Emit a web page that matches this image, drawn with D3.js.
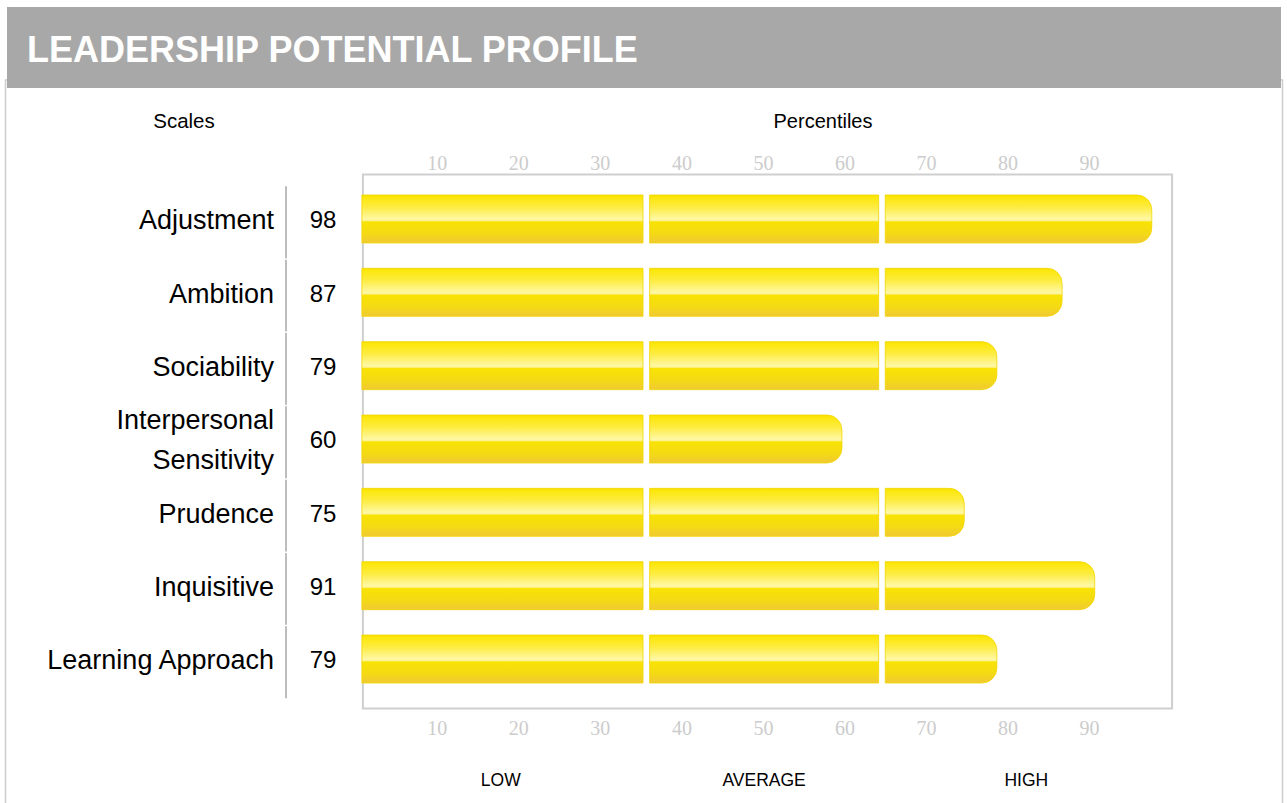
<!doctype html>
<html>
<head>
<meta charset="utf-8">
<title>Leadership Potential Profile</title>
<script src="https://d3js.org/d3.v7.min.js"></script>
<style>
  body { margin: 0; background: #fff; }
  svg { display: block; }
</style>
</head>
<body>
<script>
// scales shown on the profile, top to bottom
var scaleNames = ["Adjustment", "Ambition", "Sociability", "Interpersonal Sensitivity",
                  "Prudence", "Inquisitive", "Learning Approach"];
var percentiles = [98, 87, 79, 60, 75, 91, 79];
var tickValues = [10, 20, 30, 40, 50, 60, 70, 80, 90];
// LOW / AVERAGE / HIGH bands (percentile ranges)
var bandNames = ["LOW", "AVERAGE", "HIGH"];
var bandEdges = [1, 35.7, 64.6, 100];

var W = 1287, H = 803;
var svg = d3.select("body").append("svg")
    .attr("width", W)
    .attr("height", H);

// bar gradient
var defs = svg.append("defs");
var grad = defs.append("linearGradient")
    .attr("id", "gold")
    .attr("x1", 0).attr("y1", 0).attr("x2", 0).attr("y2", 1);
[["0%", "#f6dd00"], ["4%", "#fce70a"], ["25%", "#fdec40"], ["50%", "#fff8a4"],
 ["53%", "#fff39a"], ["56%", "#f8e304"], ["80%", "#f4da14"], ["100%", "#f0c934"]]
  .forEach(function(s) {
    grad.append("stop").attr("offset", s[0]).attr("stop-color", s[1]);
  });

// panel and header
svg.append("rect")
    .attr("x", 5.5).attr("y", 80).attr("width", 1277).attr("height", 740)
    .attr("fill", "#fff").attr("stroke", "#cccccc").attr("stroke-width", 1.5);
svg.append("rect")
    .attr("x", 7).attr("y", 7).attr("width", 1274).attr("height", 81)
    .attr("fill", "#a8a8a8");
svg.append("text")
    .attr("x", 27).attr("y", 62)
    .attr("font-family", "Arial, 'Liberation Sans', sans-serif")
    .attr("font-weight", "bold")
    .attr("font-size", 36)
    .attr("fill", "#fff")
    .text("LEADERSHIP POTENTIAL PROFILE");

var x = d3.scaleLinear().domain([1, 100]).range([363.4, 1170.6]);
var rows = d3.scaleBand().domain(scaleNames).range([182.3, 695.7]);
var step = rows.step();
var barH = 48;

// column headings
svg.append("text")
    .attr("x", 184).attr("y", 128)
    .attr("text-anchor", "middle")
    .attr("font-family", "Arial, 'Liberation Sans', sans-serif")
    .attr("font-size", 20.5)
    .text("Scales");
svg.append("text")
    .attr("x", 823).attr("y", 128)
    .attr("text-anchor", "middle")
    .attr("font-family", "Arial, 'Liberation Sans', sans-serif")
    .attr("font-size", 20)
    .text("Percentiles");

// plot frame
svg.append("rect")
    .attr("x", x(1) - 0.5).attr("y", 174.5)
    .attr("width", x(100) - x(1) + 2).attr("height", 534)
    .attr("fill", "none")
    .attr("stroke", "#cfcfcf")
    .attr("stroke-width", 2);

// axes (labels only)
function styleAxis(g) {
  g.select(".domain").remove();
  g.selectAll("text")
    .attr("font-family", "'Times New Roman', 'Liberation Serif', serif")
    .attr("font-size", 20)
    .attr("fill", "#cccccc");
}
svg.append("g")
    .attr("transform", "translate(0,174)")
    .call(d3.axisTop(x).tickValues(tickValues).tickSize(0).tickPadding(4))
    .call(styleAxis);
svg.append("g")
    .attr("transform", "translate(0,709)")
    .call(d3.axisBottom(x).tickValues(tickValues).tickSize(0).tickPadding(12))
    .call(styleAxis);

// separator line between names and numbers
svg.append("g").selectAll("line")
    .data(scaleNames)
    .join("line")
    .attr("x1", 286).attr("x2", 286)
    .attr("y1", function(d) { return rows(d) + 4; })
    .attr("y2", function(d) { return rows(d) + step + 2.5; })
    .attr("stroke", "#bdbdbd")
    .attr("stroke-width", 2);

// scale names
var names = svg.append("g").selectAll("text")
    .data(scaleNames)
    .join("text")
    .attr("x", 274)
    .attr("y", function(d) { return rows(d) + step / 2; })
    .attr("text-anchor", "end")
    .attr("font-family", "Arial, 'Liberation Sans', sans-serif")
    .attr("font-size", 27)
    .attr("fill", "#000");
names.each(function(d) {
  var t = d3.select(this);
  var parts = d === "Interpersonal Sensitivity" ? ["Interpersonal", "Sensitivity"] : [d];
  var cy = rows(d) + step / 2;
  parts.forEach(function(p, i) {
    t.append("tspan")
      .attr("x", 274)
      .attr("y", cy + (parts.length === 1 ? 1 : (i === 0 ? -19 : 21)))
      .attr("dy", "0.35em")
      .text(p);
  });
});

// percentile numbers
svg.append("g").selectAll("text")
    .data(scaleNames)
    .join("text")
    .attr("x", 323)
    .attr("y", function(d) { return rows(d) + step / 2 + 1; })
    .attr("dy", "0.35em")
    .attr("text-anchor", "middle")
    .attr("font-family", "Arial, 'Liberation Sans', sans-serif")
    .attr("font-size", 24)
    .text(function(d, i) { return percentiles[i]; });

// bars, split into LOW / AVERAGE / HIGH pieces
var gap = 3.3, r = 15;
function piece(x0, x1, y0, h, rounded) {
  var y1 = y0 + h;
  if (!rounded) return "M" + x0 + "," + y0 + "H" + x1 + "V" + y1 + "H" + x0 + "Z";
  var rr = Math.min(r, (x1 - x0));
  return "M" + x0 + "," + y0 + "H" + (x1 - rr) +
    "A" + rr + "," + r + " 0 0 1 " + x1 + "," + (y0 + r) +
    "V" + (y1 - r) +
    "A" + rr + "," + r + " 0 0 1 " + (x1 - rr) + "," + y1 +
    "H" + x0 + "Z";
}
var segs = [];
scaleNames.forEach(function(name, i) {
  var v = percentiles[i];
  var y0 = rows(name) + (step - barH) / 2;
  for (var b = 0; b < bandNames.length; b++) {
    var lo = bandEdges[b], hi = bandEdges[b + 1];
    if (v <= lo) break;
    var last = v <= hi;
    var x0 = b === 0 ? x(lo) - 1.5 : x(lo) + gap;
    var x1 = last ? x(v) - 2.5 : x(hi) - gap;
    segs.push({ d: piece(x0, x1, y0, barH, last) });
  }
});
svg.append("g").selectAll("path")
    .data(segs)
    .join("path")
    .attr("d", function(d) { return d.d; })
    .attr("fill", "url(#gold)")
    .attr("stroke", "#f3d600")
    .attr("stroke-width", 0.8);

// band labels
svg.append("g").selectAll("text")
    .data(bandNames)
    .join("text")
    .attr("x", function(d, i) { return x((bandEdges[i] + bandEdges[i + 1]) / 2 - (i === 0 ? 0.5 : 0)); })
    .attr("y", 786)
    .attr("text-anchor", "middle")
    .attr("font-family", "Arial, 'Liberation Sans', sans-serif")
    .attr("font-size", 17.5)
    .text(function(d) { return d; });
</script>
</body>
</html>
